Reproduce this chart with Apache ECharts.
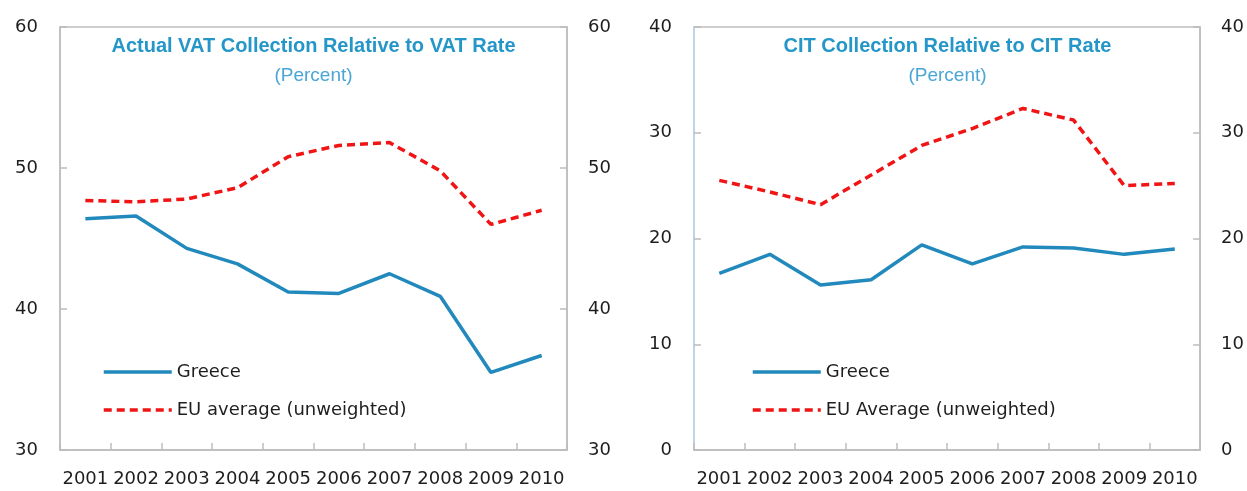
<!DOCTYPE html>
<html>
<head>
<meta charset="utf-8">
<script src="https://cdn.jsdelivr.net/npm/echarts@6/dist/echarts.min.js"></script>
<style>
  html, body { margin: 0; padding: 0; background: #fff; }
  #wrap { position: relative; width: 1247px; height: 491px; }
  .panel { position: absolute; top: 0; height: 491px; }
</style>
</head>
<body>
<div id="wrap">
  <div id="vat" class="panel" style="left:0;width:623px"></div>
  <div id="cit" class="panel" style="left:623px;width:624px"></div>
</div>
<script>
// categories
const years = ['2001', '2002', '2003', '2004', '2005', '2006', '2007', '2008', '2009', '2010']

// VAT panel values (percent)
const vatGreece = [46.4, 46.6, 44.3, 43.2, 41.2, 41.1, 42.5, 40.9, 35.5, 36.7]
const vatEU = [47.7, 47.6, 47.8, 48.6, 50.8, 51.6, 51.8, 49.8, 46.0, 47.0]

// CIT panel values (percent)
const citGreece = [16.7, 18.5, 15.6, 16.1, 19.4, 17.6, 19.2, 19.1, 18.5, 19.0]
const citEU = [25.5, 24.4, 23.2, 26.0, 28.8, 30.4, 32.3, 31.2, 25.0, 25.2]

// y axis ranges: [min, max, interval]
const vatRange = [30, 60, 10]
const citRange = [0, 40, 10]

const FONT = 'DejaVu Sans'
const TITLE_FONT = 'Liberation Sans'
const BLUE = '#2289bd'
const RED = '#f01414'
const LABEL_COLOR = '#1e1e1e'
const FRAME = '#bdbdbd'

function buildPanel(el, cfg) {
    const chart = echarts.init(el, null, { renderer: 'canvas' })

    const yAxisBase = {
        type: 'value',
        gridIndex: 0,
        min: cfg.range[0],
        max: cfg.range[1],
        interval: cfg.range[2],
        splitLine: { show: false },
        axisTick: { show: true, inside: true, length: 7, lineStyle: { color: FRAME, width: 1.5 } },
        axisLabel: { color: LABEL_COLOR, fontFamily: FONT, fontSize: 18 }
    }

    chart.setOption({
        animation: false,
        title: {
            text: cfg.title,
            subtext: '(Percent)',
            left: cfg.titleX,
            top: 36,
            padding: 0,
            textAlign: 'center',
            itemGap: 10,
            textStyle: { color: '#2496c8', fontFamily: TITLE_FONT, fontWeight: 'bold', fontSize: 20 },
            subtextStyle: { color: '#4aa6d6', fontFamily: TITLE_FONT, fontSize: 19 }
        },
        legend: {
            orient: 'vertical',
            left: cfg.legendX,
            top: 362,
            padding: 0,
            itemWidth: 68,
            itemHeight: 14,
            itemGap: 18,
            selectedMode: false,
            itemStyle: { opacity: 0 },
            lineStyle: { width: 3.5 },
            data: ['Greece', cfg.euName],
            textStyle: { color: LABEL_COLOR, fontFamily: FONT, fontSize: 18, lineHeight: 20 }
        },
        grid: {
            left: cfg.gridLeft,
            top: 27,
            width: 507,
            height: 423,
            show: true,
            borderColor: FRAME,
            borderWidth: 1.5,
            backgroundColor: 'transparent'
        },
        xAxis: {
            type: 'category',
            data: years,
            boundaryGap: true,
            axisLine: { show: true, lineStyle: { color: FRAME, width: 1.5 } },
            axisTick: { show: true, inside: true, length: 7, interval: 0, lineStyle: { color: FRAME, width: 1.5 } },
            axisLabel: { color: LABEL_COLOR, fontFamily: FONT, fontSize: 18, margin: 20, interval: 0 },
            splitLine: { show: false }
        },
        yAxis: [
            Object.assign({}, yAxisBase, {
                position: 'left',
                axisLine: { show: true, lineStyle: { color: cfg.leftLine, width: 1.5 } },
                axisLabel: Object.assign({}, yAxisBase.axisLabel, { margin: 22 })
            }),
            Object.assign({}, yAxisBase, {
                position: 'right',
                axisLine: { show: true, lineStyle: { color: FRAME, width: 1.5 } },
                axisLabel: Object.assign({}, yAxisBase.axisLabel, { margin: 21 })
            })
        ],
        series: [
            {
                name: 'Greece',
                type: 'line',
                data: cfg.greece,
                symbol: 'none',
                lineStyle: { color: BLUE, width: 3.5 },
                itemStyle: { color: BLUE }
            },
            {
                name: cfg.euName,
                type: 'line',
                data: cfg.eu,
                symbol: 'none',
                lineStyle: { color: RED, width: 3.5, type: [8, 5] },
                itemStyle: { color: RED }
            }
        ]
    })
    return chart
}

buildPanel(document.getElementById('vat'), {
    title: 'Actual VAT Collection Relative to VAT Rate',
    titleX: 313.5,
    legendX: 102,
    gridLeft: 60,
    leftLine: FRAME,
    range: vatRange,
    greece: vatGreece,
    eu: vatEU,
    euName: 'EU average (unweighted)'
})

buildPanel(document.getElementById('cit'), {
    title: 'CIT Collection Relative to CIT Rate',
    titleX: 324.5,
    legendX: 128,
    gridLeft: 71,
    leftLine: '#bcd4ee',
    range: citRange,
    greece: citGreece,
    eu: citEU,
    euName: 'EU Average (unweighted)'
})
</script>
</body>
</html>
